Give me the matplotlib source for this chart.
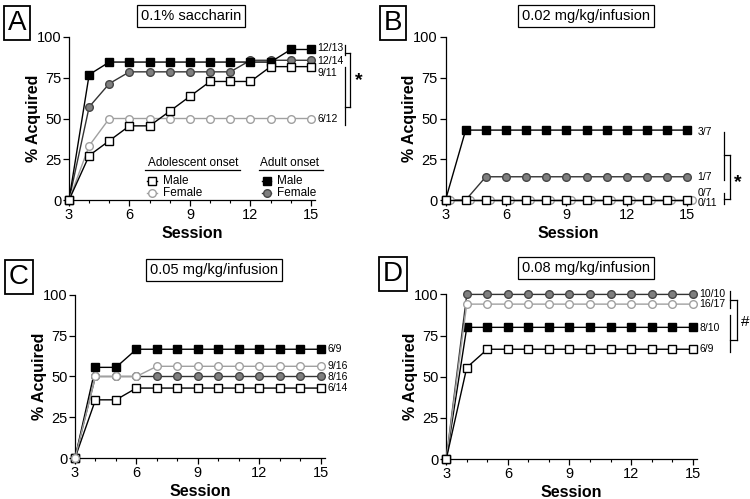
import matplotlib
matplotlib.use("Agg")
import matplotlib.pyplot as plt
from matplotlib.ticker import MultipleLocator

plt.rcParams['font.family'] = ['Liberation Sans', 'DejaVu Sans']

sessions = list(range(3, 16))

# Panel A: 0.1% saccharin
A_adol_male   = [0, 27.3, 36.4, 45.5, 45.5, 54.5, 63.6, 72.7, 72.7, 72.7, 81.8, 81.8, 81.8]
A_adol_female = [0, 33.3, 50, 50, 50, 50, 50, 50, 50, 50, 50, 50, 50]
A_adult_male  = [0, 76.9, 84.6, 84.6, 84.6, 84.6, 84.6, 84.6, 84.6, 84.6, 84.6, 92.3, 92.3]
A_adult_female = [0, 57.1, 71.4, 78.6, 78.6, 78.6, 78.6, 78.6, 78.6, 85.7, 85.7, 85.7, 85.7]
A_labels = ["12/13", "12/14", "9/11", "6/12"]
A_label_y = [93.5, 85.5, 78, 50]

# Panel B: 0.02 mg/kg/infusion
B_adol_male   = [0] * 13
B_adol_female = [0] * 13
B_adult_male  = [0] + [42.9] * 12
B_adult_female = [0, 0] + [14.3] * 11
B_labels = ["3/7", "1/7", "0/7", "0/11"]
B_label_y = [42, 14.3, 4.5, -2]

# Panel C: 0.05 mg/kg/infusion
C_adol_male   = [0, 35.7, 35.7] + [42.9] * 10
C_adol_female = [0, 50, 50, 50] + [56.25] * 9
C_adult_male  = [0, 55.6, 55.6] + [66.7] * 10
C_adult_female = [0] + [50] * 12
C_labels = ["6/9", "9/16", "8/16", "6/14"]
C_label_y = [66.7, 56.3, 49.7, 42.9]

# Panel D: 0.08 mg/kg/infusion
D_adol_male   = [0, 55.6] + [66.7] * 11
D_adol_female = [0] + [94.1] * 12
D_adult_male  = [0] + [80] * 12
D_adult_female = [0] + [100] * 12
D_labels = ["10/10", "16/17", "8/10", "6/9"]
D_label_y = [100, 94.3, 79.5, 66.7]

titles = ["0.1% saccharin", "0.02 mg/kg/infusion", "0.05 mg/kg/infusion", "0.08 mg/kg/infusion"]
letters = ["A", "B", "C", "D"]

fig = plt.figure(figsize=(7.5, 4.99), dpi=100)

ax_rects = [
    [0.092, 0.599, 0.328, 0.327],
    [0.594, 0.599, 0.328, 0.327],
    [0.100, 0.082, 0.333, 0.327],
    [0.595, 0.080, 0.334, 0.330],
]

GRAY_LINE = '#a0a0a0'
GRAY_FILL = '#7f7f7f'

styles = {
    'adult_female': dict(color='#333333', marker='o', mfc=GRAY_FILL, mec='#444444'),
    'adol_female': dict(color=GRAY_LINE, marker='o', mfc='white', mec=GRAY_LINE),
    'adult_male': dict(color='black', marker='s', mfc='black', mec='black'),
    'adol_male': dict(color='black', marker='s', mfc='white', mec='black'),
}

data = [
    (A_adol_male, A_adol_female, A_adult_male, A_adult_female, A_labels, A_label_y, 0.0),
    (B_adol_male, B_adol_female, B_adult_male, B_adult_female, B_labels, B_label_y, 0.2),
    (C_adol_male, C_adol_female, C_adult_male, C_adult_female, C_labels, C_label_y, 0.0),
    (D_adol_male, D_adol_female, D_adult_male, D_adult_female, D_labels, D_label_y, 0.0),
]

title_pos = [(191, 16), (586, 16), (214, 270), (586, 268)]
letter_pos = [(17, 23), (393, 23), (19, 277), (393, 274)]
label_x = [15.3, 15.5, 15.35, 15.33]

axes = []
for i, rect in enumerate(ax_rects):
    ax = fig.add_axes(rect)
    axes.append(ax)
    am, af, dm, df, labs, laby, foff = data[i]
    order = [('adult_female', df, 0.0), ('adult_male', dm, 0.0),
             ('adol_female', af, foff), ('adol_male', am, 0.0)]
    if i == 2:
        order = [('adult_female', df, 0.0), ('adult_male', dm, 0.0),
                 ('adol_male', am, 0.0), ('adol_female', af, 0.0)]
    for key, ys, off in order:
        st = styles[key]
        xs = [s + off for s in sessions]
        ax.plot(xs, ys, color=st['color'], lw=1.0, marker=st['marker'],
                ms=5.5, mfc=st['mfc'], mec=st['mec'], mew=1.0, clip_on=False, zorder=3)
    for lab, ly in zip(labs, laby):
        ax.text(label_x[i], ly, lab, fontsize=7.5, va='center', ha='left')

    ax.set_xlim(3, 15.2)
    ax.set_ylim(0, 100)
    ax.spines['top'].set_visible(False)
    ax.spines['right'].set_visible(False)
    ax.spines['left'].set_linewidth(0.9)
    ax.spines['bottom'].set_linewidth(0.9)
    ax.set_xticks([3, 6, 9, 12, 15])
    ax.xaxis.set_minor_locator(MultipleLocator(1))
    ax.set_yticks([0, 25, 50, 75, 100])
    ax.tick_params(axis='both', which='major', labelsize=10.5, length=4, width=0.9, pad=1.5)
    ax.tick_params(axis='x', which='minor', length=2, width=0.8)
    ax.set_xlabel("Session", fontsize=11.5, fontweight='bold', labelpad=3)
    ax.set_ylabel("% Acquired", fontsize=11.5, fontweight='bold', labelpad=-3)

    tx, ty = title_pos[i]
    fig.text(tx / 750, 1 - ty / 499, titles[i], fontsize=10.5, ha='center', va='center',
             bbox=dict(boxstyle='square,pad=0.25', fc='white', ec='black', lw=0.9))
    lx, lyy = letter_pos[i]
    fig.text(lx / 750, 1 - lyy / 499, letters[i], fontsize=20, ha='center', va='center',
             bbox=dict(boxstyle='square,pad=0.15', fc='white', ec='black', lw=1.3))

def seg(ax, x0, x1, y0, y1):
    ax.plot([x0, x1], [y0, y1], color='black', lw=0.9, clip_on=False)

# Significance brackets
axA, axB, axC, axD = axes
seg(axA, 16.68, 16.68, 95, 89)
seg(axA, 16.68, 16.68, 81.6, 46)
seg(axA, 16.68, 16.95, 90.2, 90.2)
seg(axA, 16.95, 16.95, 90.2, 57)
seg(axA, 16.68, 16.95, 57, 57)
axA.text(17.35, 73, "*", fontsize=14, fontweight='bold', ha='center', va='center')

seg(axB, 16.82, 16.82, 41.8, 12.2)
seg(axB, 16.82, 16.82, 4.5, -2.4)
seg(axB, 16.82, 17.11, 27.6, 27.6)
seg(axB, 17.11, 17.11, 27.6, 0.4)
seg(axB, 16.82, 17.11, 0.4, 0.4)
axB.text(17.5, 11, "*", fontsize=14, fontweight='bold', ha='center', va='center')

seg(axD, 16.83, 16.83, 102.2, 91.5)
seg(axD, 16.83, 16.83, 87.4, 65.2)
seg(axD, 16.83, 17.17, 96.5, 96.5)
seg(axD, 17.17, 17.17, 96.5, 72.3)
seg(axD, 16.83, 17.17, 72.3, 72.3)
axD.text(17.55, 83.4, "#", fontsize=11, ha='center', va='center')

# Legend in panel A
axA.text(6.93, 22.7, "Adolescent onset", fontsize=8.5, va='center', ha='left')
axA.text(12.45, 22.7, "Adult onset", fontsize=8.5, va='center', ha='left')
seg(axA, 6.78, 11.5, 18.4, 18.4)
seg(axA, 12.4, 15.6, 18.4, 18.4)
leg_rows = [
    (6.87, 7.36, 11.7, 'adol_male', "Male"),
    (6.87, 7.36, 4.5, 'adol_female', "Female"),
    (12.58, 13.03, 11.7, 'adult_male', "Male"),
    (12.58, 13.03, 4.5, 'adult_female', "Female"),
]
for x0, x1, y, key, name in leg_rows:
    st = styles[key]
    axA.plot([x0, x1], [y, y], color=st['color'], lw=1.0, clip_on=False)
    axA.plot([(x0 + x1) / 2], [y], marker=st['marker'], ms=5.5, mfc=st['mfc'],
             mec=st['mec'], mew=1.0, color=st['color'], clip_on=False)
    axA.text(x1 + 0.3, y, name, fontsize=8.5, va='center', ha='left')

fig.savefig("out.png", dpi=100)
